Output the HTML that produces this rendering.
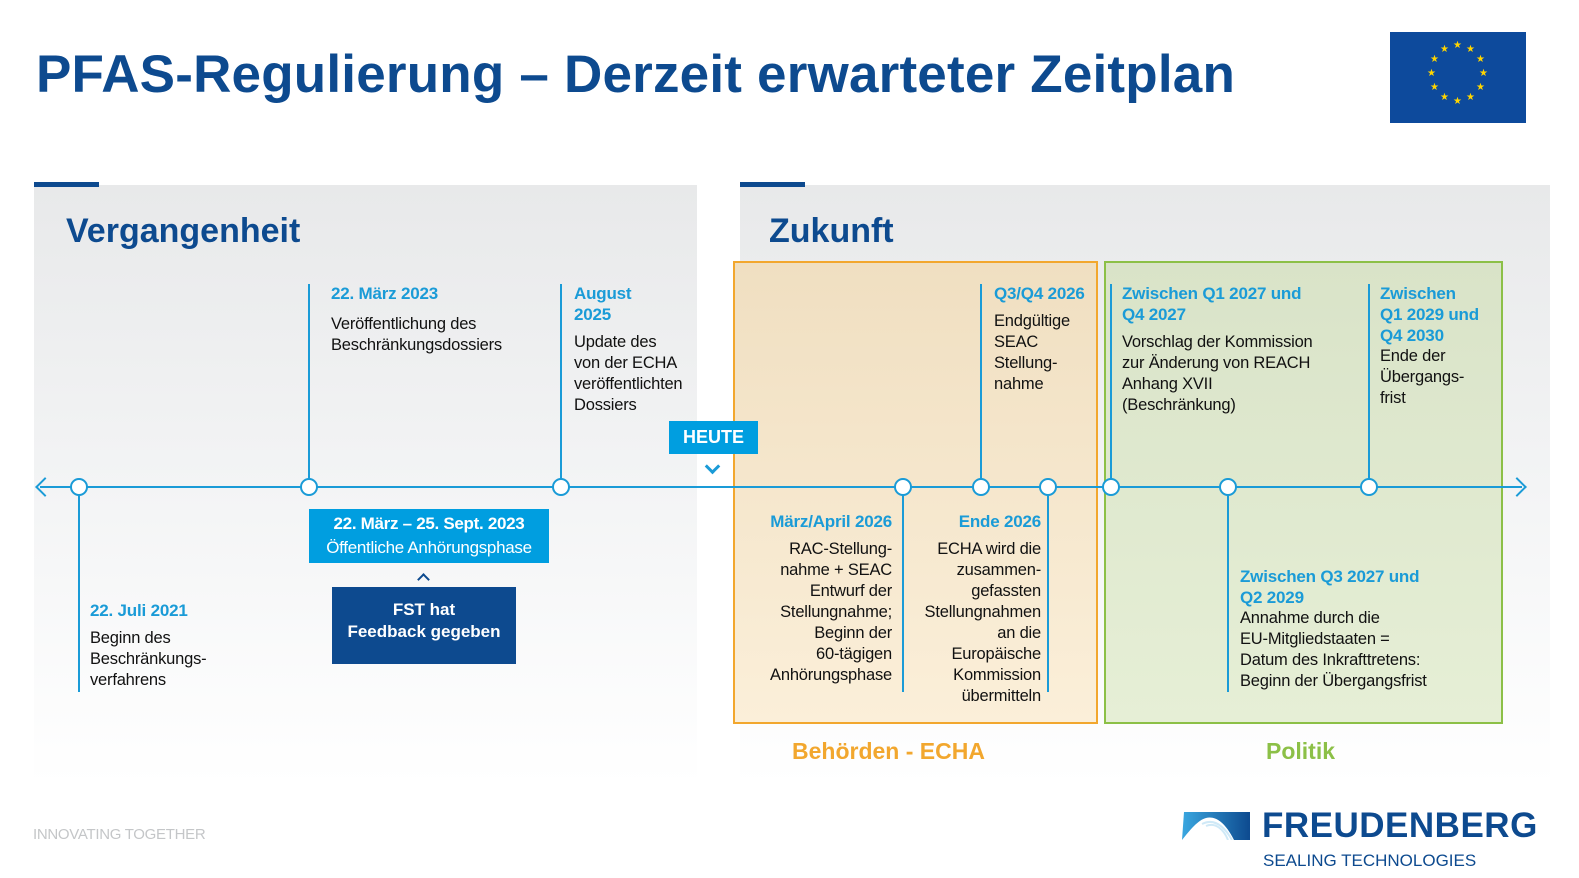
<!DOCTYPE html>
<html><head><meta charset="utf-8"><style>
html,body{margin:0;width:1579px;height:878px;overflow:hidden;}
body{position:relative;background:#fff;font-family:"Liberation Sans",sans-serif;}
div{position:absolute;}
.t{font-size:16.5px;line-height:21px;color:#111;letter-spacing:-0.2px}
.h{font-weight:bold;color:#1a9bd7;font-size:17px;line-height:21px;letter-spacing:-0.2px}
.vl{width:2px;background:#1a9bd7;}
.c{width:14px;height:14px;border:2px solid #1a9bd7;border-radius:50%;background:#fff;}
.r{text-align:right;}
</style></head><body>
<div style="left:36px;top:44px;font-weight:bold;font-size:53px;color:#0d4a8f;white-space:nowrap;letter-spacing:0.2px">PFAS-Regulierung – Derzeit erwarteter Zeitplan</div>
<div style="left:1390px;top:32px;width:136px;height:91px;background:#0d4a9c;color:#ffd500;font-size:10px;font-family:'DejaVu Sans',sans-serif">
<span style="position:absolute;left:63px;top:8px">★</span><span style="position:absolute;left:76px;top:12px">★</span><span style="position:absolute;left:86px;top:22px">★</span><span style="position:absolute;left:89px;top:36px">★</span><span style="position:absolute;left:86px;top:50px">★</span><span style="position:absolute;left:76px;top:60px">★</span><span style="position:absolute;left:63px;top:64px">★</span><span style="position:absolute;left:50px;top:60px">★</span><span style="position:absolute;left:40px;top:50px">★</span><span style="position:absolute;left:37px;top:36px">★</span><span style="position:absolute;left:40px;top:22px">★</span><span style="position:absolute;left:50px;top:12px">★</span></div>

<div style="left:34px;top:185px;width:663px;height:600px;background:linear-gradient(#e8e9ea,#f3f4f5 50%,#fff)"></div>
<div style="left:740px;top:185px;width:810px;height:600px;background:linear-gradient(#e8e9ea,#f3f4f5 50%,#fff)"></div>
<div style="left:34px;top:182px;width:65px;height:5px;background:#0d4a8f"></div>
<div style="left:740px;top:182px;width:65px;height:5px;background:#0d4a8f"></div>
<div style="left:66px;top:212px;font-size:34px;font-weight:bold;color:#0d4a8f">Vergangenheit</div>
<div style="left:769px;top:212px;font-size:34px;font-weight:bold;color:#0d4a8f">Zukunft</div>

<div style="left:733px;top:261px;width:361px;height:459px;border:2px solid #f2a72e;background:linear-gradient(#f0dfc1,#fbefd9)"></div>
<div style="left:1104px;top:261px;width:395px;height:459px;border:2px solid #8cc047;background:linear-gradient(#d9e3c8,#e6efd6)"></div>

<div style="left:40px;top:486px;width:1482px;height:2px;background:#1a9bd7"></div>
<div style="left:38px;top:480px;width:12px;height:12px;border-left:2px solid #1a9bd7;border-bottom:2px solid #1a9bd7;transform:rotate(45deg);"></div>
<div style="left:1510px;top:480px;width:12px;height:12px;border-right:2px solid #1a9bd7;border-top:2px solid #1a9bd7;transform:rotate(45deg);"></div>

<div class="vl" style="left:78px;top:487px;height:205px"></div>
<div class="vl" style="left:308px;top:284px;height:203px"></div>
<div class="vl" style="left:560px;top:284px;height:203px"></div>
<div class="vl" style="left:902px;top:487px;height:205px"></div>
<div class="vl" style="left:980px;top:284px;height:203px"></div>
<div class="vl" style="left:1047px;top:487px;height:205px"></div>
<div class="vl" style="left:1110px;top:284px;height:203px"></div>
<div class="vl" style="left:1227px;top:487px;height:205px"></div>
<div class="vl" style="left:1368px;top:284px;height:203px"></div>

<div class="c" style="left:70px;top:478px"></div>
<div class="c" style="left:300px;top:478px"></div>
<div class="c" style="left:552px;top:478px"></div>
<div class="c" style="left:894px;top:478px"></div>
<div class="c" style="left:972px;top:478px"></div>
<div class="c" style="left:1039px;top:478px"></div>
<div class="c" style="left:1102px;top:478px"></div>
<div class="c" style="left:1219px;top:478px"></div>
<div class="c" style="left:1360px;top:478px"></div>

<div style="left:669px;top:421px;width:89px;height:33px;background:#009ee0;color:#fff;font-weight:bold;font-size:18px;line-height:33px;text-align:center">HEUTE</div>
<div style="left:707px;top:461px;width:8px;height:8px;border-right:3px solid #1a9bd7;border-bottom:3px solid #1a9bd7;transform:rotate(45deg)"></div>

<div style="left:90px;top:600px"><div class="h" style="position:static">22. Juli 2021</div><div class="t" style="position:static;margin-top:7px">Beginn des<br>Beschränkungs-<br>verfahrens</div></div>
<div style="left:331px;top:283px"><div class="h" style="position:static">22. März 2023</div><div class="t" style="position:static;margin-top:10px">Veröffentlichung des<br>Beschränkungsdossiers</div></div>
<div style="left:574px;top:283px"><div class="h" style="position:static">August<br>2025</div><div class="t" style="position:static;margin-top:7px">Update des<br>von der ECHA<br>veröffentlichten<br>Dossiers</div></div>
<div style="left:309px;top:509px;width:240px;height:54px;background:#009ee0;color:#fff;font-weight:bold;font-size:17px;line-height:24px;text-align:center;padding-top:3px;box-sizing:border-box;letter-spacing:-0.3px">22. März – 25. Sept. 2023<br><span style="font-weight:normal">Öffentliche Anhörungsphase</span></div>
<div style="left:419px;top:575px;width:7px;height:7px;border-left:2px solid #0d4a8f;border-top:2px solid #0d4a8f;transform:rotate(45deg)"></div>
<div style="left:332px;top:587px;width:184px;height:77px;background:#0d4a8f;color:#fff;font-weight:bold;font-size:17px;line-height:22px;text-align:center;padding-top:12px;box-sizing:border-box">FST hat<br>Feedback gegeben</div>

<div class="r" style="left:740px;top:511px;width:152px"><div class="h" style="position:static">März/April 2026</div><div class="t" style="position:static;margin-top:7px">RAC-Stellung-<br>nahme + SEAC<br>Entwurf der<br>Stellungnahme;<br>Beginn der<br>60-tägigen<br>Anhörungsphase</div></div>
<div class="r" style="left:900px;top:511px;width:141px"><div class="h" style="position:static">Ende 2026</div><div class="t" style="position:static;margin-top:7px">ECHA wird die<br>zusammen-<br>gefassten<br>Stellungnahmen<br>an die<br>Europäische<br>Kommission<br>übermitteln</div></div>
<div style="left:994px;top:283px"><div class="h" style="position:static">Q3/Q4 2026</div><div class="t" style="position:static;margin-top:7px">Endgültige<br>SEAC<br>Stellung-<br>nahme</div></div>

<div style="left:1122px;top:283px"><div class="h" style="position:static">Zwischen Q1 2027 und<br>Q4 2027</div><div class="t" style="position:static;margin-top:7px">Vorschlag der Kommission<br>zur Änderung von REACH<br>Anhang XVII<br>(Beschränkung)</div></div>
<div style="left:1380px;top:283px"><div class="h" style="position:static">Zwischen<br>Q1 2029 und<br>Q4 2030</div><div class="t" style="position:static">Ende der<br>Übergangs-<br>frist</div></div>
<div style="left:1240px;top:566px"><div class="h" style="position:static">Zwischen Q3 2027 und<br>Q2 2029</div><div class="t" style="position:static">Annahme durch die<br>EU-Mitgliedstaaten =<br>Datum des Inkrafttretens:<br>Beginn der Übergangsfrist</div></div>

<div style="left:792px;top:738px;font-weight:bold;font-size:23px;color:#f2a72e">Behörden - ECHA</div>
<div style="left:1266px;top:738px;font-weight:bold;font-size:23px;color:#8cc047">Politik</div>

<div style="left:33px;top:826px;font-size:15px;color:#c4c6c8;letter-spacing:-0.3px">INNOVATING TOGETHER</div>
<svg style="position:absolute;left:1180px;top:812px" width="72" height="28"><defs><linearGradient id="g" x1="0" x2="1"><stop offset="0" stop-color="#3aa7e0"/><stop offset="1" stop-color="#0d4a8f"/></linearGradient></defs>
<path d="M4 0H70V28H54C44 8 34 4 26 6C18 8 10 18 2 28Z" fill="url(#g)"/>
<path d="M22 12C34 6 44 14 52 28M26 14C36 10 44 18 48 28" stroke="#cfe9f7" stroke-width="2" fill="none"/></svg>
<div style="left:1262px;top:806px;font-weight:bold;font-size:35px;color:#0d4a8f;letter-spacing:0.5px">FREUDENBERG</div>
<div style="left:1263px;top:851px;font-size:17px;color:#0d4a8f">SEALING TECHNOLOGIES</div>
</body></html>
